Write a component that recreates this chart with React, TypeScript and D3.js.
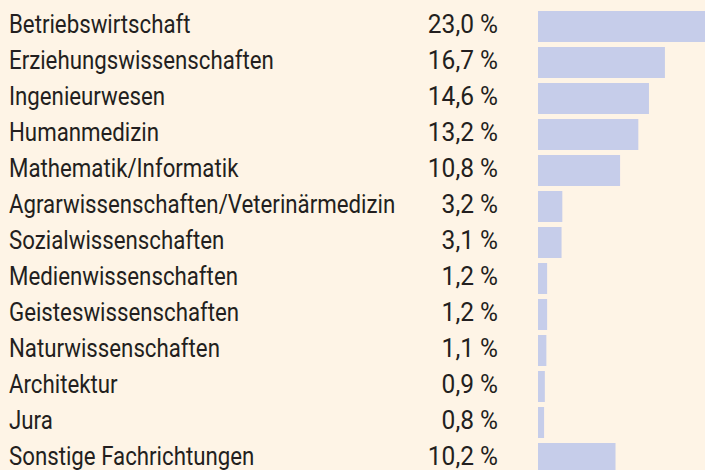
import React from "react";
import * as d3 from "d3";

const categories = [
  "Betriebswirtschaft",
  "Erziehungswissenschaften",
  "Ingenieurwesen",
  "Humanmedizin",
  "Mathematik/Informatik",
  "Agrarwissenschaften/Veterinärmedizin",
  "Sozialwissenschaften",
  "Medienwissenschaften",
  "Geisteswissenschaften",
  "Naturwissenschaften",
  "Architektur",
  "Jura",
  "Sonstige Fachrichtungen",
];
const values = [23.0, 16.7, 14.6, 13.2, 10.8, 3.2, 3.1, 1.2, 1.2, 1.1, 0.9, 0.8, 10.2];
const valueLabels = ["23,0 %", "16,7 %", "14,6 %", "13,2 %", "10,8 %", "3,2 %", "3,1 %", "1,2 %", "1,2 %", "1,1 %", "0,9 %", "0,8 %", "10,2 %"];

const W = 705;
const H = 470;

export default function App() {
  const y = d3.scaleBand<string>().domain(categories).range([11, 474]).paddingInner(5 / 36).paddingOuter(0);
  const x = d3.scaleLinear().domain([0, 10]).range([538, 614]);
  const font = "Roboto, 'Open Sans', sans-serif";
  const sx = 0.89;
  return (
    <svg width={W} height={H} style={{ position: "absolute", left: 0, top: 0, display: "block" }}>
      <rect x={0} y={0} width={W} height={H} fill="#fef4e6" />
      {categories.map((c, i) => {
        const y0 = y(c)!;
        const bw = y.bandwidth();
        return (
          <g key={c}>
            <rect x={x(0)} y={y0} width={x(values[i]) - x(0)} height={bw} fill="#c6cdea" />
            <text transform={`translate(9,${y0 + 22}) scale(${sx},1)`} fontFamily={font} fontSize={25} fill="#231f20">{c}</text>
            <text transform={`translate(498,${y0 + 22}) scale(0.98,1)`} fontFamily={font} fontSize={25} fill="#231f20" textAnchor="end">{valueLabels[i]}</text>
          </g>
        );
      })}
    </svg>
  );
}
